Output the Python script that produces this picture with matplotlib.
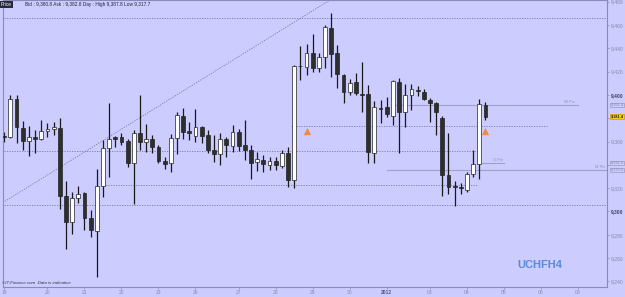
import numpy as np
import matplotlib
matplotlib.use("Agg")
import matplotlib.pyplot as plt

plt.rcParams['font.family'] = ['Liberation Sans', 'DejaVu Sans']

# 4h candles (open, high, low, close)
opens = [9364.4, 9364.2, 9396.6, 9371.4, 9360.8, 9363.7, 9362.0, 9369.1, 9370.6, 9371.7,
         9313.3, 9291.2, 9311.3, 9315.6, 9294.7, 9283.5, 9321.9, 9354.2, 9363.7, 9364.2,
         9360.5, 9341.4, 9367.1, 9359.4, 9362.2, 9355.6, 9343.6, 9341.4, 9362.8, 9382.0,
         9369.1, 9364.8, 9372.3, 9365.7, 9352.8, 9349.4, 9362.5, 9356.5, 9368.5, 9357.1,
         9352.8, 9342.2, 9344.2, 9339.9, 9343.6, 9339.3, 9350.5, 9327.0, 9424.9, 9424.3,
         9435.8, 9422.9, 9432.9, 9457.8, 9435.8, 9417.2, 9402.8, 9411.4, 9400.6, 9400.6,
         9350.0, 9388.6, 9389.4, 9382.2, 9410.9, 9385.7, 9400.0, 9404.3, 9402.8, 9395.7,
         9392.9, 9380.0, 9331.3, 9321.9, 9321.3, 9318.5, 9331.9, 9340.5, 9391.4]
highs = [9368.5, 9400.0, 9400.0, 9377.9, 9373.4, 9370.0, 9378.5, 9376.2, 9377.1, 9380.5,
         9326.2, 9317.0, 9321.9, 9317.0, 9301.3, 9336.2, 9361.4, 9393.4, 9364.8, 9367.1,
         9362.0, 9370.0, 9400.0, 9374.8, 9365.7, 9357.1, 9346.5, 9366.5, 9385.7, 9388.6,
         9377.1, 9387.7, 9373.4, 9370.0, 9365.7, 9367.6, 9363.7, 9374.2, 9370.6, 9378.5,
         9357.1, 9351.3, 9348.5, 9347.0, 9347.0, 9352.8, 9355.6, 9425.8, 9442.1, 9443.5,
         9452.1, 9435.8, 9460.1, 9470.1, 9442.9, 9417.8, 9413.7, 9418.6, 9428.6, 9408.6,
         9394.8, 9395.7, 9398.5, 9412.9, 9414.9, 9409.4, 9409.4, 9407.7, 9405.2, 9397.2,
         9394.2, 9382.0, 9367.1, 9326.4, 9324.7, 9334.2, 9352.8, 9396.3, 9394.2]
lows = [9359.9, 9363.1, 9359.1, 9352.8, 9347.6, 9350.5, 9361.4, 9364.2, 9365.7, 9301.9,
        9267.5, 9280.7, 9307.0, 9284.1, 9277.8, 9244.0, 9312.2, 9329.9, 9355.6, 9357.1,
        9338.5, 9306.4, 9352.8, 9351.3, 9350.0, 9341.4, 9336.2, 9334.2, 9349.4, 9362.0,
        9361.4, 9359.9, 9358.5, 9350.5, 9342.7, 9339.9, 9347.0, 9351.3, 9351.9, 9344.2,
        9327.8, 9335.0, 9334.2, 9335.6, 9335.6, 9337.1, 9321.3, 9319.9, 9412.9, 9417.2,
        9420.0, 9420.0, 9422.9, 9415.7, 9405.8, 9392.9, 9400.0, 9400.0, 9385.7, 9341.4,
        9341.4, 9375.7, 9380.9, 9374.2, 9350.0, 9372.8, 9387.1, 9399.1, 9395.7, 9377.1,
        9365.7, 9313.3, 9315.0, 9305.0, 9315.0, 9317.0, 9329.9, 9327.6, 9378.5]
closes = [9364.0, 9396.6, 9372.3, 9360.8, 9363.7, 9362.0, 9369.1, 9370.8, 9372.5, 9313.3,
          9291.2, 9311.8, 9314.8, 9294.7, 9284.1, 9321.9, 9354.2, 9362.5, 9362.5, 9359.9,
          9341.9, 9367.1, 9359.4, 9362.2, 9355.6, 9343.6, 9340.8, 9362.8, 9382.8, 9368.5,
          9367.6, 9372.3, 9364.8, 9352.8, 9349.4, 9362.5, 9356.8, 9368.5, 9356.5, 9352.8,
          9341.4, 9344.8, 9340.5, 9343.6, 9339.9, 9350.5, 9327.0, 9424.9, 9424.5, 9435.8,
          9422.9, 9432.9, 9458.6, 9435.2, 9417.8, 9402.8, 9410.6, 9401.5, 9400.3, 9351.3,
          9389.4, 9387.7, 9383.7, 9412.0, 9385.7, 9400.0, 9405.2, 9403.4, 9396.3, 9393.4,
          9385.7, 9331.3, 9321.3, 9320.8, 9319.9, 9331.9, 9340.5, 9392.0, 9381.4]

day_ticks = [0, 7, 13, 19, 25, 31, 38, 44, 50, 56, 62, 69, 75, 81, 87, 93]
day_labels = ['19', '20', '21', '22', '23', '26', '27', '28', '29', '30',
              '2012', '03', '04', '05', '06', '09']
price_ticks = list(range(9240, 9481, 20))
hidden_ticks = [9380, 9340]   # covered by the value boxes

dotted_levels = [9465.7, 9373.4, 9351.9, 9322.7, 9305.6]
dotted_spans = [(-1, 99), (46.4, 88), (-1, 76.8), (16, 76.8), (-1, 99)]
pivots = {'W Piv': 9391.4, 'D Piv': 9341.6, 'M Piv': 9335.6}
box_values = [9391.4, 9341.6, 9335.6]
trend = [(-0.6, 9306.4), (52.8, 9481.5)]
arrow_idx = [49, 78]
arrow_price = 9368.7

ymin, ymax = 9235.2, 9481.5
bg = '#ccccff'
fig = plt.figure(figsize=(6.25, 2.97), dpi=100, facecolor=bg)
ax = fig.add_axes([3 / 625, 10 / 297, 604 / 625, 287 / 297])
ax.set_facecolor(bg)

x = np.arange(len(opens))
o = np.array(opens); h = np.array(highs); l = np.array(lows); c = np.array(closes)
up = c >= o

# levels
for lev, (x0, x1) in zip(dotted_levels, dotted_spans):
    ax.plot([x0, x1], [lev, lev], color='#7a7aa8', lw=0.6, ls=(0, (1.5, 1.5)), zorder=1)
ax.plot(*zip(*trend), color='#7a7aa8', lw=0.6, ls=(0, (1.5, 1.5)), zorder=1)

ax.plot([63.2, 93], [pivots['W Piv']] * 2, color='#a0a0c8', lw=0.8, zorder=1)
ax.plot([62, 99], [pivots['M Piv']] * 2, color='#a0a0c8', lw=0.8, zorder=1)
ax.plot([77, 81], [pivots['D Piv']] * 2, color='#a0a0c8', lw=0.8, zorder=1)
ax.text(92.5, pivots['W Piv'] + 1.2, 'W Piv', fontsize=3, color='#9090b8', ha='right', va='bottom')
ax.text(80.8, pivots['D Piv'] + 1.2, 'D Piv', fontsize=3, color='#9090b8', ha='right', va='bottom')
ax.text(97.5, pivots['M Piv'] + 1.2, 'M Piv', fontsize=3, color='#9090b8', ha='right', va='bottom')

# candles
ax.vlines(x, l, h, colors='#1a1a1a', lw=0.9, zorder=2)
bottoms = np.minimum(o, c)
heights = np.maximum(np.abs(c - o), 0.6)
ax.bar(x, heights, bottom=bottoms, width=0.62,
       color=np.where(up, 'white', '#2e2e2e'), edgecolor='#222222', linewidth=0.5, zorder=3)

ax.scatter(arrow_idx, [arrow_price] * len(arrow_idx), marker='^', s=28,
           color='#f08a4b', zorder=4, linewidths=0)

ax.set_xlim(-0.2, 97.7)
ax.set_ylim(ymin, ymax)

ax.yaxis.tick_right()
ax.set_yticks(price_ticks)
ax.set_yticklabels(['' if p in hidden_ticks else f'{p:,}' for p in price_ticks])
ax.set_xticks(day_ticks)
ax.set_xticklabels(day_labels)
ax.tick_params(axis='both', labelsize=3.6, colors='#8888aa', length=1.5, width=0.5, pad=1)
for lab, p in zip(ax.get_yticklabels(), price_ticks):
    lab.set_color('#444466' if p % 100 == 0 else '#8888aa')
    lab.set_fontweight('bold' if p % 100 == 0 else 'normal')
for lab in ax.get_xticklabels():
    lab.set_color('#555577' if lab.get_text() == '2012' else '#8888aa')
    if lab.get_text() == '2012':
        lab.set_fontweight('bold')
for sp in ax.spines.values():
    sp.set_color('#8a8ab8')
    sp.set_linewidth(0.8)

# value boxes on the price scale
for v in box_values:
    ax.text(1.006, (v - ymin) / (ymax - ymin), f'{v:,.1f}', transform=ax.transAxes,
            fontsize=2.8, color='#8888aa', va='center', ha='left',
            bbox=dict(boxstyle='square,pad=0.1', fc=bg, ec='#9999c0', lw=0.5), clip_on=False)
ax.text(1.006, (closes[-1] - ymin) / (ymax - ymin), f'{closes[-1]:,.1f}',
        transform=ax.transAxes, fontsize=2.8, color='#222222', fontweight='bold', va='center',
        ha='left', bbox=dict(boxstyle='square,pad=0.15', fc='#f5d020', ec='#c8a000', lw=0.5),
        clip_on=False)

# header and footer
fig.text(1 / 625, 1 - 4.5 / 297, 'Price', fontsize=3.4, color='white', va='center', ha='left',
         bbox=dict(boxstyle='square,pad=0.25', fc='#2a2a3a', ec='none'))
fig.text(25 / 625, 1 - 4.5 / 297, 'Bid : 9,380.8 Ask : 9,382.8 Day : High 9,387.8 Low 9,317.7',
         fontsize=3.4, color='#222233', va='center', ha='left')
fig.text(2 / 625, 13.5 / 297, '\u00a9IT-Finance.com  Data is indicative', fontsize=3.2,
         style='italic', color='#333344', va='center', ha='left')
fig.text(540 / 625, 32 / 297, 'UCHFH4', fontsize=8, fontweight='bold', color='#5a8ad8',
         va='center', ha='center')

fig.savefig('out.png', dpi=100, facecolor=bg)
